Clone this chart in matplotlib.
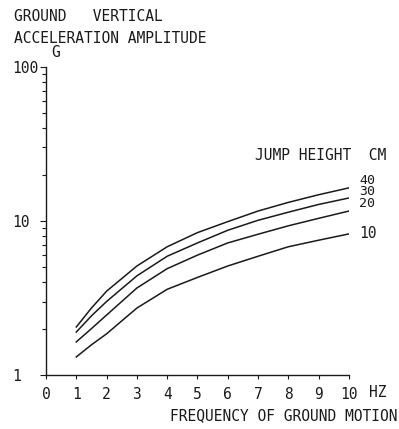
import matplotlib
matplotlib.use("Agg")
import matplotlib.pyplot as plt
import numpy as np

# frequency of ground motion (Hz)
freq = [1, 1.5, 2, 3, 4, 5, 6, 7, 8, 9, 10]
# ground vertical acceleration amplitude (G), one list per jump height
acc_10 = [1.31, 1.57, 1.85, 2.72, 3.6, 4.3, 5.1, 5.9, 6.8, 7.5, 8.24]
acc_20 = [1.64, 2.0, 2.45, 3.67, 4.9, 6.0, 7.2, 8.2, 9.3, 10.4, 11.6]
acc_30 = [1.90, 2.42, 3.0, 4.4, 5.9, 7.2, 8.7, 10.1, 11.4, 12.8, 14.1]
acc_40 = [2.05, 2.72, 3.5, 5.1, 6.8, 8.4, 9.9, 11.6, 13.2, 14.8, 16.4]
heights = ["40", "30", "20", "10"]
xticks = list(range(0, 11))
yticks = [1, 10, 100]

plt.rcParams['font.family'] = ['DejaVu Sans Mono']
ink = '#1a1a1a'
fs = 10.5

fig = plt.figure(figsize=(3.99, 4.29), dpi=100)
ax = fig.add_axes([0.1153, 0.1259, 0.759, 0.718])

for acc in [acc_10, acc_20, acc_30, acc_40]:
	ax.plot(freq, acc, color=ink, lw=1.1)

ax.set_yscale('log')
ax.set_xlim(0, 10)
ax.set_ylim(1, 100)

for s in ['top', 'right']:
	ax.spines[s].set_visible(False)
for s in ['left', 'bottom']:
	ax.spines[s].set_color(ink)
	ax.spines[s].set_linewidth(1.0)

ax.set_xticks(xticks)
ax.set_xticklabels([str(t) for t in xticks], fontsize=fs, color=ink)
ax.tick_params(axis='x', direction='out', length=3, width=0.8, colors=ink, pad=6)

ax.set_yticks(yticks)
ax.set_yticklabels([str(t) for t in yticks], fontsize=fs, color=ink)
ax.tick_params(axis='y', which='major', direction='out', length=4, width=0.8, colors=ink, pad=20)
ax.tick_params(axis='y', which='minor', direction='out', length=3, width=0.8, colors=ink)
for lab in ax.get_yticklabels():
	lab.set_horizontalalignment('left')

# curve labels at right end: 40/30/20 are stacked tightly, 10 stands apart
ax.text(10.35, 15.5, "\n".join(heights[:3]), fontsize=9.5, color=ink,
	va='center', ha='left', linespacing=0.85, clip_on=False)
ax.text(10.35, 8.3, heights[3], fontsize=fs, color=ink, va='center', ha='left', clip_on=False)

ax.text(6.9, 26.5, "JUMP HEIGHT  CM", fontsize=fs, color=ink, va='center', ha='left')

fig.text(0.035, 0.962, "GROUND   VERTICAL", fontsize=fs, color=ink, va='center', ha='left')
fig.text(0.035, 0.911, "ACCELERATION AMPLITUDE", fontsize=fs, color=ink, va='center', ha='left')
fig.text(0.128, 0.878, "G", fontsize=fs, color=ink, va='center', ha='left')
fig.text(0.925, 0.086, "HZ", fontsize=fs, color=ink, va='center', ha='left')
fig.text(0.712, 0.032, "FREQUENCY OF GROUND MOTION", fontsize=fs, color=ink, va='center', ha='center')

fig.savefig("out.png", dpi=100)
